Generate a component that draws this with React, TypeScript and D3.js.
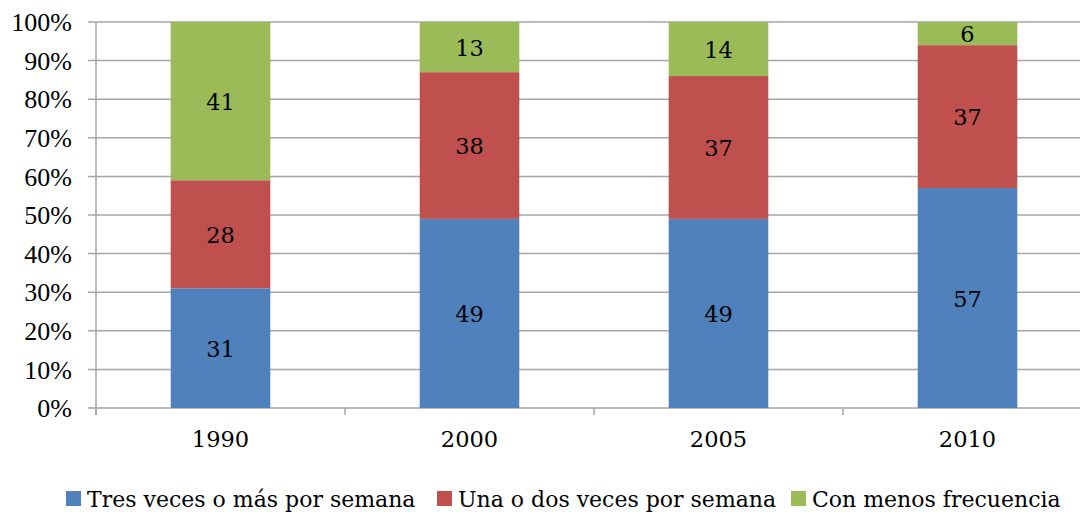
import React from 'react';
import * as d3 from 'd3';

const years = ['1990', '2000', '2005', '2010'];
const tresVeces = [31, 49, 49, 57];
const unaODos = [28, 38, 37, 37];
const menosFrec = [41, 13, 14, 6];
const seriesNames = ['Tres veces o más por semana', 'Una o dos veces por semana', 'Con menos frecuencia'];
const colors = ['#4F81BD', '#C0504D', '#9BBB59'];
const yTicks = [0, 10, 20, 30, 40, 50, 60, 70, 80, 90, 100];

const W = 1080;
const H = 512;
const left = 96;
const top = 22;
const bottom = 408;

const App = () => {
  const x = d3.scaleBand<string>().domain(years).range([left, left + 4 * 249]).padding(0);
  const y = d3.scaleLinear().domain([0, 100]).range([bottom, top]);
  const barW = x.bandwidth() * 0.4;

  const rows = years.map((yr, i) => ({ year: yr, s0: tresVeces[i], s1: unaODos[i], s2: menosFrec[i] }));
  const stacked = d3.stack<any>().keys(['s0', 's1', 's2'])(rows);

  const gridColor = '#A6A6A6';
  const labelFont = '"DejaVu Serif", serif';

  const legendX = [66, 437, 791];

  return (
    <svg width={W} height={H} style={{ position: 'absolute', left: 0, top: 0, background: '#fff' }}>
      {/* gridlines */}
      {yTicks.map(t => (
        <line key={'g' + t} x1={left - 8} x2={W} y1={y(t)} y2={y(t)} stroke={gridColor} strokeWidth={1.5} />
      ))}
      {/* y axis */}
      <line x1={left} x2={left} y1={top} y2={bottom + 7} stroke={gridColor} strokeWidth={1.5} />
      {yTicks.map(t => (
        <text key={'yl' + t} x={72} y={y(t)} dy="0.35em" textAnchor="end"
          fontFamily='"Liberation Serif", serif' fontSize={26} fill="#000">{t}%</text>
      ))}
      {/* x ticks */}
      {years.map(yr => (
        <line key={'xt' + yr} x1={x(yr)!} x2={x(yr)!} y1={bottom} y2={bottom + 7} stroke={gridColor} strokeWidth={1.5} />
      ))}
      {/* bars */}
      {stacked.map((layer, si) => (
        <g key={'s' + si}>
          {layer.map((d, i) => {
            const cx = x(years[i])! + x.bandwidth() / 2;
            const y0 = y(d[0]);
            const y1 = y(d[1]);
            return (
              <g key={i}>
                <rect x={cx - barW / 2} y={y1} width={barW} height={y0 - y1} fill={colors[si]} />
                <text x={cx} y={(y0 + y1) / 2} dy="0.38em" textAnchor="middle"
                  fontFamily={labelFont} fontSize={22.5} fill="#000">{d[1] - d[0]}</text>
              </g>
            );
          })}
        </g>
      ))}
      {/* category labels */}
      {years.map(yr => (
        <text key={'xl' + yr} x={x(yr)! + x.bandwidth() / 2} y={447} textAnchor="middle"
          fontFamily={labelFont} fontSize={22.5} fill="#000">{yr}</text>
      ))}
      {/* legend */}
      {seriesNames.map((n, i) => (
        <g key={'lg' + i}>
          <rect x={legendX[i]} y={491} width={15} height={15} fill={colors[i]} />
          <text x={legendX[i] + 21} y={507} fontFamily={labelFont} fontSize={22} fill="#000">{n}</text>
        </g>
      ))}
    </svg>
  );
};

export default App;
